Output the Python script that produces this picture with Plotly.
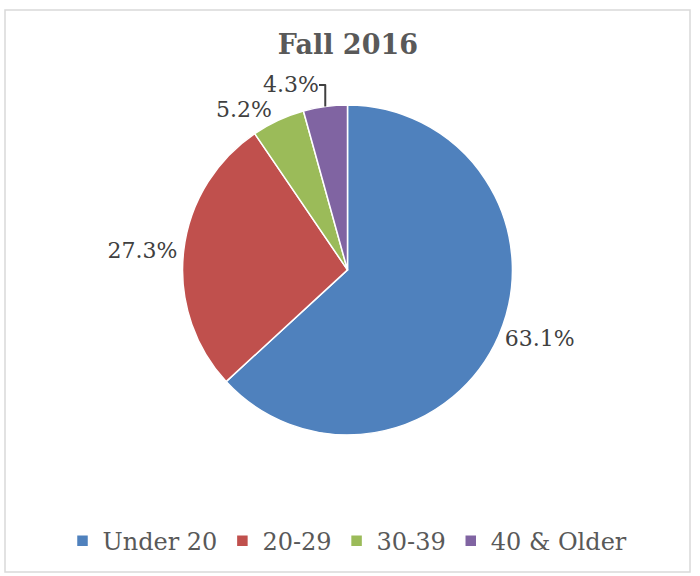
import plotly.graph_objects as go

categories = ["Under 20", "20-29", "30-39", "40 & Older"]
values = [63.1, 27.3, 5.2, 4.3]
colors = ["#4F81BD", "#C0504D", "#9BBB59", "#8064A2"]
title_text = "Fall 2016"

labels_text = [f"{v:.1f}%" for v in values]
FONT = "Georgia, DejaVu Serif, serif"

fig = go.Figure()
fig.add_trace(go.Pie(
    labels=categories,
    values=values,
    text=labels_text,
    textinfo="text",
    textposition="outside",
    sort=False,
    direction="clockwise",
    rotation=0,
    marker=dict(colors=colors, line=dict(color="white", width=1.5)),
    textfont=dict(family=FONT, size=22, color="#404040"),
    domain=dict(x=[0.0, 1.0], y=[0.244, 0.831]),
    hole=0,
))

fig.update_layout(
    width=700, height=576,
    margin=dict(l=5, r=10, t=10, b=4, autoexpand=False),
    paper_bgcolor="white",
    plot_bgcolor="white",
    title=dict(text="<b>" + title_text + "</b>", x=0.497, xanchor="center", y=0.922, yanchor="middle",
               xref="container", yref="container",
               font=dict(family=FONT, size=27, color="#595959")),
    legend=dict(orientation="h", x=0.5, xanchor="center", y=0.055, yanchor="middle",
                font=dict(family=FONT, size=24, color="#595959"),
                traceorder="normal", itemwidth=30),
    shapes=[dict(type="rect", xref="paper", yref="paper", x0=0, x1=1, y0=0, y1=1,
                 line=dict(color="#D9D9D9", width=1.5), fillcolor="rgba(0,0,0,0)", layer="below")],
)

fig.write_html("out.html", config={"displayModeBar": False},
               post_script="document.body.style.margin='0';")
